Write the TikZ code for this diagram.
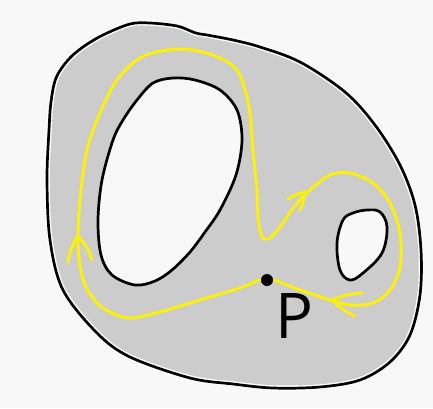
\documentclass[tikz,border=0pt]{standalone}
\usepackage{fontspec}
\newfontfamily\pfont{Open Sans}
\definecolor{bgc}{RGB}{248,248,248}
\definecolor{regc}{RGB}{204,204,204}
\definecolor{pathc}{RGB}{255,242,0}
\def\outerpts{(56,78) (68,60) (83,47) (103,35) (130,24) (150,23) (177,26) (193,32) (200,34) (207,35) (233,40) (260,47) (300,62) (345,92) (375,125) (400,165) (415,205) (421,250) (420,295) (410,335) (390,362) (360,380) (320,387) (273,388) (233,384) (190,378) (130,357) (97,333) (63,290) (50,240) (47,180) (49,130) (51,102)}
\begin{document}
\begin{tikzpicture}[x=1pt,y=-1pt,
  border/.style={draw=black,line width=2.7pt},
  loop/.style={draw=pathc,line width=2.9pt,line cap=round,line join=round},
  barb/.style={draw=pathc,line width=2.9pt,line cap=round}]
\fill[bgc] (0,0) rectangle (433,408);
\useasboundingbox (0,0) rectangle (433,408);
% outer region
\path[fill=regc] plot[smooth cycle,tension=0.55] coordinates {\outerpts};
\draw[white,line width=5.5pt] plot[smooth cycle,tension=0.55] coordinates {\outerpts};
\draw[border] plot[smooth cycle,tension=0.55] coordinates {\outerpts};
% big hole
\draw[border,fill=bgc] plot[smooth cycle,tension=0.55] coordinates {(173,78) (195,80) (220,90) (237,110) (242,140) (236,175) (220,210) (205,232) (190,252) (172,270) (155,281) (135,285) (112,275) (101,255) (98,220) (102,180) (113,140) (123,120) (137,100) (153,83)};
% small hole
\draw[border,fill=bgc] plot[smooth cycle,tension=0.6] coordinates {(353,213) (367,210) (380,212) (387,227) (382,253) (363,273) (350,280) (340,270) (337,243) (343,220)};
% yellow loop
\draw[loop] plot[smooth cycle,tension=0.55] coordinates {(267,279) (240,288) (200,300) (160,312) (130,318) (110,312) (97,303) (85,285) (80,265) (78,240) (80,200) (87,150) (100,113) (117,80) (140,58) (167,50) (193,50) (220,58) (237,70) (245,90) (250,113) (253,150) (257,190) (258,217) (262,237) (270,238) (280,227) (297,203) (310,190) (330,175) (350,173) (373,183) (390,203) (400,233) (400,267) (390,290) (373,303) (350,305) (330,300) (300,290)};
% arrowheads
\coordinate (a1) at (78,236);
\draw[barb] (68,262) to[bend left=12] (a1) to[bend left=12] (92,260);
\coordinate (a2) at (305,192);
\draw[barb] (288,199) to[bend left=10] (a2) to[bend left=10] (300,210);
\coordinate (a3) at (332,300);
\draw[barb] (363,293) to[bend right=10] (a3) to[bend right=10] (355,316);
% point P
\node[circle,fill=black,inner sep=0pt,minimum size=12pt] (p) at (267,280) {};
\node[anchor=base west,inner sep=0pt,font=\pfont\fontsize{63}{63}\selectfont] (plabel) at (275,338) {P};
\end{tikzpicture}
\end{document}
